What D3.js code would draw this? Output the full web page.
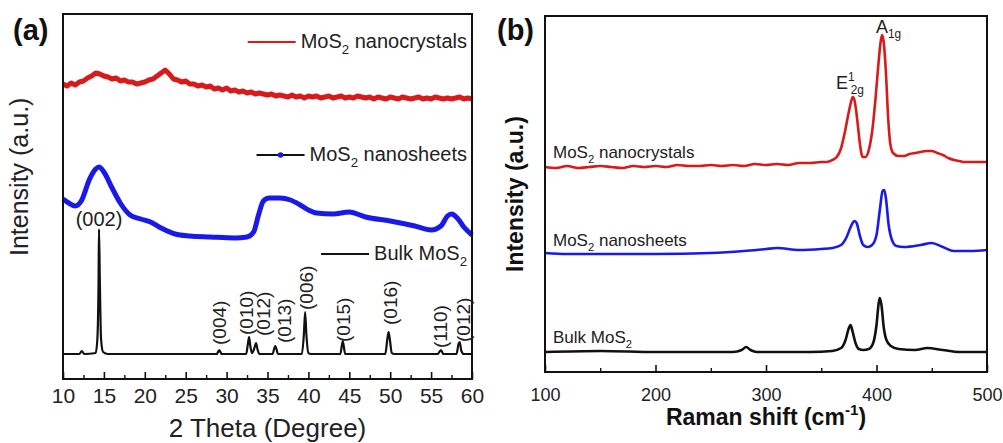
<!DOCTYPE html>
<html>
<head>
<meta charset="utf-8">
<script src="https://cdn.jsdelivr.net/npm/d3@7"></script>
<style>
  body { margin: 0; background: #fff; }
  svg { display: block; font-family: "Liberation Sans", Arial, sans-serif; }
</style>
</head>
<body>
<svg id="chart" width="1003" height="443"></svg>
<script>
// ---- (a) XRD data, [2theta, intensity a.u. incl. stacking offset] ----
const xrdNanocrystals = [
  [10.0,295],[10.5,293],[11.0,296],[11.5,294],[12.0,297],[12.5,298],[13.0,301],[13.5,303],[14.0,306],[14.5,305],
  [15.0,303],[15.5,302],[16.0,300],[16.5,301],[17.0,298],[17.5,299],[18.0,297],[18.5,297],[19.0,295],[19.5,296],
  [20.0,297],[20.5,299],[21.0,300],[21.5,303],[22.0,306],[22.5,309],[23.0,305],[23.5,300],[24.0,299],[24.5,297],
  [25.0,298],[25.5,295],[26.0,295],[26.5,293],[27.0,294],[27.5,292],[28.0,293],[28.5,290],[29.0,291],[29.5,289],
  [30.0,291],[30.5,288],[31.0,289],[31.5,287],[32.0,288],[32.5,286],[33.0,287],[33.5,285],[34.0,286],[34.5,285],
  [35.0,284],[35.5,285],[36.0,283],[36.5,284],[37.0,283],[37.5,282],[38.0,284],[38.5,282],[39.0,283],[39.5,281],
  [40.0,283],[40.5,282],[41.0,283],[41.5,281],[42.0,282],[42.5,283],[43.0,281],[43.5,282],[44.0,283],[44.5,281],
  [45.0,282],[45.5,281],[46.0,283],[46.5,282],[47.0,281],[47.5,282],[48.0,280],[48.5,282],[49.0,281],[49.5,280],
  [50.0,282],[50.5,281],[51.0,280],[51.5,282],[52.0,281],[52.5,280],[53.0,281],[53.5,282],[54.0,280],[54.5,281],
  [55.0,280],[55.5,282],[56.0,281],[56.5,280],[57.0,281],[57.5,280],[58.0,281],[58.5,282],[59.0,280],[59.5,281],
  [60.0,280]
];
const xrdNanosheets = [
  [10.0,180],[10.7,176],[11.5,173],[12.3,179],[13.2,199],[14.0,210],[14.4,212],[15.0,207],[16.0,191],[17.0,176],
  [18.2,164],[19.5,160],[20.7,157],[22.0,151],[23.7,145],[25.5,143],[28.0,142],[31.0,141],[32.5,142],[33.3,147],
  [33.9,164],[34.5,178],[35.2,181],[36.5,181],[37.8,179],[39.0,174],[40.0,169],[41.0,166],[43.0,165],[45.0,167],
  [47.0,162],[50.0,158],[53.0,153],[55.0,149],[56.2,153],[57.0,163],[57.5,165],[58.2,161],[59.0,152],[60.0,144]
];
const xrdBulk = [
  [10.0,25],[12.0,25],[12.3,28],[12.6,25],[14.0,26],[14.2,40],[14.35,100],[14.4,150],[14.5,100],[14.65,40],
  [14.9,27],[15.5,25],[20.0,25],[25.0,25],[28.8,25],[29.1,29],[29.4,25],[32.4,25],[32.6,35],[32.75,42],
  [32.9,33],[33.1,26],[33.4,31],[33.6,36],[33.8,29],[34.0,25],[35.6,25],[35.95,33],[36.3,25],[39.2,25],
  [39.45,45],[39.6,67],[39.75,45],[40.0,26],[40.3,25],[43.9,25],[44.2,38],[44.5,25],[49.4,25],[49.65,40],
  [49.8,47],[49.95,40],[50.2,26],[50.5,25],[55.8,25],[56.2,29],[56.5,25],[58.1,25],[58.35,35],[58.5,37],
  [58.7,28],[59.0,25],[60.0,25]
];
const xrdPeaks = [
  { hkl: '(004)', theta: 29.1, level: 34 },
  { hkl: '(010)', theta: 32.4, level: 44 },
  { hkl: '(012)', theta: 34.5, level: 43 },
  { hkl: '(013)', theta: 37.0, level: 36 },
  { hkl: '(006)', theta: 39.7, level: 69 },
  { hkl: '(015)', theta: 44.3, level: 37 },
  { hkl: '(016)', theta: 50.0, level: 54 },
  { hkl: '(110)', theta: 56.1, level: 31 },
  { hkl: '(012)', theta: 58.9, level: 37 }
];
const xrdTicks = [10, 15, 20, 25, 30, 35, 40, 45, 50, 55, 60];
const xrdMinorTicks = [12.5, 17.5, 22.5, 27.5, 32.5, 37.5, 42.5, 47.5, 52.5, 57.5];

// ---- (b) Raman data, [shift cm-1, intensity a.u. incl. offset] ----
const ramanNanocrystals = [
  [100,205],[110,204],[120,206],[130,204],[140,205],[150,206],[160,205],[170,204],[180,206],[190,205],
  [200,206],[210,205],[220,207],[230,206],[240,206],[250,207],[260,206],[270,207],[280,206],[290,208],
  [300,207],[310,208],[320,207],[330,209],[340,209],[350,210],[355,210],[360,212],[364,215],[368,224],
  [371,238],[374,255],[376.5,268],[378.5,275],[380,272],[381.5,262],[383,248],[385,228],[387.5,215],[390,215],
  [393,222],[396,240],[399,272],[401.5,305],[403.5,328],[405,337],[406.5,330],[408.5,300],[410.5,255],[412.5,228],
  [415,219],[420,216],[425,216],[430,218],[435,219],[440,220],[445,221],[450,221],[455,219],[460,217],
  [465,214],[470,212],[475,211],[480,210],[490,210],[500,210]
];
const ramanNanosheets = [
  [100,119],[120,118],[150,118],[200,118],[250,119],[280,121],[300,123],[310,124],[330,122],[350,123],
  [360,124],[368,127],[373,135],[377,146],[380,151],[382,149],[385,136],[388,127],[392,125],[396,127],
  [400,137],[403,162],[405.5,181],[407,182],[408.5,174],[411,147],[414,132],[418,126],[425,125],[440,127],
  [450,129],[460,125],[470,121],[485,121],[500,122]
];
const ramanBulk = [
  [100,20],[150,21],[200,20],[270,20],[278,22],[282,25],[286,22],[292,20],[340,20],[360,21],
  [368,24],[372,32],[375,44],[376.5,47],[378,42],[381,29],[384,23],[388,22],[393,23],[397,29],
  [400,47],[402,69],[403,74],[404.5,67],[406.5,45],[409,32],[413,26],[420,23],[435,22],[446,24],
  [460,22],[475,20],[500,20]
];
const ramanTicks = [100, 200, 300, 400, 500];
const ramanMinorTicks = [150, 250, 350, 450];

const RED = '#d81a1a';
const BLUE = '#1a1ae8';
const BLACK = '#111';

const svg = d3.select('#chart');

// text with sub/superscript parts: {t, shift:'sub'|'sup', dx}
function richText(sel, parts, size) {
    let cur = 0;
    parts.forEach(p => {
        const small = p.shift ? size * 0.66 : size;
        const target = p.shift === 'sub' ? size * 0.3 : p.shift === 'sup' ? -size * 0.45 : 0;
        const ts = sel.append('tspan')
            .attr('font-size', small)
            .attr('dy', target - cur)
            .text(p.t);
        if (p.dx) ts.attr('dx', p.dx);
        cur = target;
    });
    return sel;
}

// ================= panel (a) =================
const xA = d3.scaleLinear().domain([10, 60]).range([63, 472]);
const yA = d3.scaleLinear().domain([0, 365]).range([379, 14]);
const gA = svg.append('g');

const axA = gA.append('g').attr('transform', `translate(0,${yA(0)})`)
    .call(d3.axisBottom(xA).tickValues(xrdTicks).tickSizeInner(-7).tickSizeOuter(0).tickPadding(9));
axA.select('.domain').remove();
axA.selectAll('.tick line').attr('stroke', BLACK).attr('stroke-width', 1.6);
axA.selectAll('.tick text').attr('font-size', 21).attr('fill', '#222').attr('font-family', null);

const axAm = gA.append('g').attr('transform', `translate(0,${yA(0)})`)
    .call(d3.axisBottom(xA).tickValues(xrdMinorTicks).tickSizeInner(-4).tickSizeOuter(0).tickFormat(''));
axAm.select('.domain').remove();
axAm.selectAll('.tick line').attr('stroke', BLACK).attr('stroke-width', 1.4);

const smooth = d3.line().x(d => xA(d[0])).y(d => yA(d[1])).curve(d3.curveMonotoneX);
const rough = d3.line().x(d => xA(d[0])).y(d => yA(d[1]));

gA.append('path').datum(xrdNanocrystals).attr('d', rough)
    .attr('fill', 'none').attr('stroke', RED).attr('stroke-width', 5).attr('stroke-linejoin', 'round');
gA.append('path').datum(xrdNanosheets).attr('d', smooth)
    .attr('fill', 'none').attr('stroke', BLUE).attr('stroke-width', 5).attr('stroke-linejoin', 'round');
gA.append('path').datum(xrdBulk).attr('d', smooth)
    .attr('fill', 'none').attr('stroke', BLACK).attr('stroke-width', 2.2).attr('stroke-linejoin', 'round');

gA.append('rect')
    .attr('x', xA(10)).attr('y', yA(365))
    .attr('width', xA(60) - xA(10)).attr('height', yA(0) - yA(365))
    .attr('fill', 'none').attr('stroke', BLACK).attr('stroke-width', 2);

// hkl labels
gA.append('text').attr('x', xA(14.4)).attr('y', 226).attr('text-anchor', 'middle')
    .attr('font-size', 20).attr('fill', '#222').text('(002)');
gA.selectAll('.hkl').data(xrdPeaks).enter().append('text')
    .attr('class', 'hkl')
    .attr('transform', d => `translate(${xA(d.theta)},${yA(d.level)}) rotate(-90)`)
    .attr('dy', '0.35em').attr('font-size', 19).attr('fill', '#222')
    .text(d => d.hkl);

// legends (right aligned)
const legA = [
    { parts: [{ t: 'MoS' }, { t: '2', shift: 'sub' }, { t: ' nanocrystals' }], y: 48, color: RED, dot: false },
    { parts: [{ t: 'MoS' }, { t: '2', shift: 'sub' }, { t: ' nanosheets' }], y: 161, color: BLACK, dot: true },
    { parts: [{ t: 'Bulk MoS' }, { t: '2', shift: 'sub' }], y: 260, color: BLACK, dot: false }
];
legA.forEach(l => {
    const t = gA.append('text').attr('x', 467).attr('y', l.y).attr('text-anchor', 'end')
        .attr('font-size', 20).attr('fill', '#222');
    richText(t, l.parts, 20);
    const bb = t.node().getBBox();
    const x1 = bb.x - 5, x0 = x1 - 48, ly = l.y - 6;
    gA.append('line').attr('x1', x0).attr('x2', x1).attr('y1', ly).attr('y2', ly)
        .attr('stroke', l.color).attr('stroke-width', 2.2);
    if (l.dot) gA.append('circle').attr('cx', (x0 + x1) / 2).attr('cy', ly).attr('r', 2.8).attr('fill', BLUE);
});

gA.append('text').attr('x', xA(35)).attr('y', 437).attr('text-anchor', 'middle')
    .attr('font-size', 26).attr('fill', '#222').text('2 Theta (Degree)');
gA.append('text').attr('transform', 'translate(28,256) rotate(-90)')
    .attr('font-size', 25).attr('fill', '#222').text('Intensity (a.u.)');
gA.append('text').attr('x', 13).attr('y', 40).attr('font-size', 29).attr('font-weight', 'bold')
    .attr('fill', '#111').text('(a)');

// ================= panel (b) =================
const xB = d3.scaleLinear().domain([100, 500]).range([545, 987]);
const yB = d3.scaleLinear().domain([0, 356]).range([372, 16]);
const gB = svg.append('g');

const axB = gB.append('g').attr('transform', `translate(0,${yB(0)})`)
    .call(d3.axisBottom(xB).tickValues(ramanTicks).tickSizeInner(-7).tickSizeOuter(0).tickPadding(16));
axB.select('.domain').remove();
axB.selectAll('.tick line').attr('stroke', BLACK).attr('stroke-width', 1.6);
axB.selectAll('.tick text').attr('font-size', 18).attr('fill', '#222').attr('font-family', null);

const axBm = gB.append('g').attr('transform', `translate(0,${yB(0)})`)
    .call(d3.axisBottom(xB).tickValues(ramanMinorTicks).tickSizeInner(-4).tickSizeOuter(0).tickFormat(''));
axBm.select('.domain').remove();
axBm.selectAll('.tick line').attr('stroke', BLACK).attr('stroke-width', 1.4);

const lineB = d3.line().x(d => xB(d[0])).y(d => yB(d[1])).curve(d3.curveMonotoneX);
[[ramanNanocrystals, RED], [ramanNanosheets, BLUE], [ramanBulk, BLACK]].forEach(([data, c]) => {
    gB.append('path').datum(data).attr('d', lineB)
        .attr('fill', 'none').attr('stroke', c).attr('stroke-width', 2.6).attr('stroke-linejoin', 'round');
});

gB.append('rect')
    .attr('x', xB(100)).attr('y', yB(356))
    .attr('width', xB(500) - xB(100)).attr('height', yB(0) - yB(356))
    .attr('fill', 'none').attr('stroke', BLACK).attr('stroke-width', 2);

const legB = [
    { parts: [{ t: 'MoS' }, { t: '2', shift: 'sub' }, { t: ' nanocrystals' }], y: 158 },
    { parts: [{ t: 'MoS' }, { t: '2', shift: 'sub' }, { t: ' nanosheets' }], y: 246 },
    { parts: [{ t: 'Bulk MoS' }, { t: '2', shift: 'sub' }], y: 343 }
];
legB.forEach(l => {
    const t = gB.append('text').attr('x', 553).attr('y', l.y).attr('font-size', 17).attr('fill', '#222');
    richText(t, l.parts, 17);
});

// mode labels
richText(gB.append('text').attr('x', 836).attr('y', 89).attr('font-size', 18).attr('fill', '#222'),
    [{ t: 'E' }, { t: '1', shift: 'sup' }, { t: '2g', shift: 'sub', dx: -4 }], 18);
richText(gB.append('text').attr('x', 876).attr('y', 33).attr('font-size', 18).attr('fill', '#222'),
    [{ t: 'A' }, { t: '1g', shift: 'sub' }], 18);

richText(gB.append('text').attr('x', xB(300)).attr('y', 425).attr('text-anchor', 'middle')
    .attr('font-size', 23).attr('font-weight', 'bold').attr('fill', '#111'),
    [{ t: 'Raman shift (cm' }, { t: '-1', shift: 'sup' }, { t: ')' }], 23);
gB.append('text').attr('transform', 'translate(523,272) rotate(-90)')
    .attr('font-size', 23).attr('font-weight', 'bold').attr('fill', '#111').text('Intensity (a.u.)');
gB.append('text').attr('x', 497).attr('y', 40).attr('font-size', 29).attr('font-weight', 'bold')
    .attr('fill', '#111').text('(b)');
</script>
</body>
</html>
